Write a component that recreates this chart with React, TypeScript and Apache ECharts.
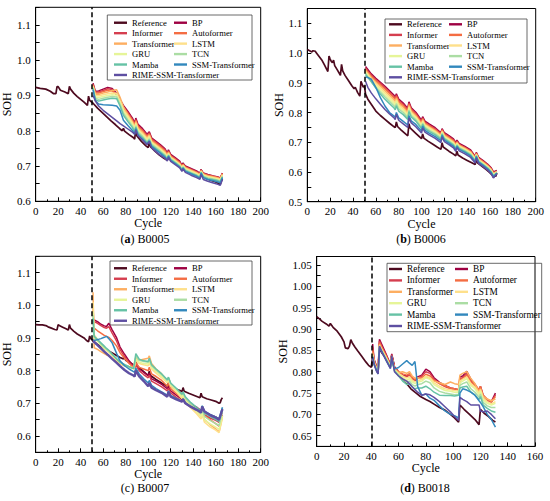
import React, { useEffect, useRef } from "react";
import * as echarts from "echarts";

const FONT = "Liberation Serif";

const SERIES_NAMES = [
  "Reference", "BP", "Informer", "Autoformer", "Transformer", "LSTM",
  "GRU", "TCN", "Mamba", "SSM-Transformer", "RIME-SSM-Transformer",
];
const SERIES_COLORS = [
  "#4d0a1f", "#9e0142", "#d53e4f", "#f46d43", "#fdae61", "#fee08b",
  "#e6f598", "#abdda4", "#66c2a5", "#3288bd", "#5e4fa2",
];
const LEGEND_LEFT = ["Reference", "Informer", "Transformer", "GRU", "Mamba", "RIME-SSM-Transformer"];
const LEGEND_RIGHT = ["BP", "Autoformer", "LSTM", "TCN", "SSM-Transformer"];

const CAPTION_LETTERS = ["a", "b", "c", "d"];
const CAPTION_NAMES = ["B0005", "B0006", "B0007", "B0018"];
const SPLITS = [50, 50, 50, 40];
const X_MAX = [200, 200, 200, 160];
const Y_MIN = [0.6, 0.5, 0.55, 0.625];
const Y_MAX = [1.15, 1.15, 1.15, 1.07];
const Y_STEP = [0.05, 0.05, 0.05, 0.025];
const Y_LABEL_STEP = [0.1, 0.1, 0.1, 0.05];

// ---------- (a) B0005 ----------
const REF_A_X = [0,4,9,13,16,18,19,20,22,26,29,30,31,34,37,40,43,46,47,48,51,55,59,63,67,71,75,77,78,79,83,87,88,89,90,94,98,100,101,102,106,110,114,117,118,119,123,127,130,131,132,136,140,144,146,147,148,152,156,160,163,164,165,166];
const REF_A_Y = [0.923,0.920,0.918,0.912,0.905,0.905,0.925,0.925,0.915,0.910,0.905,0.926,0.918,0.906,0.897,0.889,0.881,0.872,0.898,0.886,0.878,0.864,0.852,0.840,0.828,0.817,0.805,0.800,0.807,0.799,0.789,0.780,0.776,0.806,0.785,0.770,0.757,0.752,0.770,0.755,0.742,0.731,0.722,0.716,0.735,0.720,0.710,0.703,0.697,0.709,0.694,0.685,0.677,0.671,0.667,0.690,0.673,0.664,0.659,0.655,0.650,0.648,0.657,0.663];
const PRED_A_X = [51,53,56,60,64,68,72,75,78,82,86,88,89,91,95,99,101,103,107,111,115,117,118,120,124,128,130,131,133,138,143,146,147,149,153,158,162,164,166];
const BP_A = [0.935,0.912,0.913,0.918,0.923,0.920,0.906,0.888,0.872,0.855,0.836,0.822,0.836,0.818,0.806,0.790,0.797,0.780,0.770,0.760,0.749,0.736,0.746,0.733,0.724,0.714,0.702,0.708,0.700,0.693,0.686,0.679,0.690,0.680,0.676,0.672,0.669,0.666,0.680];
const INFORMER_A = [0.932,0.910,0.910,0.914,0.919,0.917,0.903,0.884,0.868,0.851,0.832,0.818,0.832,0.814,0.802,0.787,0.794,0.777,0.767,0.757,0.746,0.733,0.743,0.730,0.721,0.711,0.700,0.706,0.698,0.691,0.684,0.677,0.689,0.679,0.675,0.671,0.668,0.665,0.679];
const AUTOFORMER_A = [0.930,0.907,0.907,0.911,0.915,0.913,0.902,0.882,0.865,0.848,0.829,0.815,0.829,0.811,0.799,0.784,0.791,0.774,0.764,0.754,0.743,0.731,0.741,0.728,0.719,0.709,0.698,0.705,0.696,0.689,0.682,0.676,0.688,0.678,0.673,0.670,0.667,0.664,0.678];
const TRANSFORMER_A = [0.928,0.904,0.903,0.907,0.910,0.914,0.916,0.895,0.868,0.846,0.826,0.812,0.826,0.808,0.796,0.781,0.788,0.771,0.761,0.751,0.740,0.729,0.739,0.726,0.717,0.707,0.697,0.703,0.695,0.688,0.681,0.675,0.687,0.677,0.672,0.669,0.666,0.663,0.677];
const LSTM_A = [0.926,0.900,0.899,0.902,0.905,0.907,0.906,0.885,0.860,0.841,0.822,0.808,0.822,0.804,0.792,0.777,0.785,0.768,0.758,0.748,0.737,0.726,0.736,0.724,0.715,0.705,0.695,0.701,0.693,0.686,0.679,0.673,0.685,0.675,0.670,0.667,0.664,0.661,0.675];
const GRU_A = [0.924,0.896,0.894,0.897,0.900,0.902,0.901,0.880,0.855,0.836,0.818,0.804,0.818,0.800,0.788,0.773,0.781,0.765,0.755,0.745,0.734,0.724,0.734,0.722,0.713,0.703,0.693,0.700,0.691,0.684,0.677,0.671,0.684,0.673,0.668,0.665,0.662,0.659,0.673];
const TCN_A = [0.922,0.892,0.889,0.892,0.895,0.897,0.896,0.875,0.850,0.831,0.813,0.800,0.814,0.796,0.784,0.769,0.777,0.762,0.752,0.742,0.731,0.721,0.732,0.720,0.711,0.701,0.691,0.698,0.689,0.682,0.675,0.669,0.683,0.671,0.666,0.663,0.660,0.657,0.671];
const MAMBA_A = [0.920,0.888,0.884,0.887,0.890,0.892,0.891,0.870,0.844,0.826,0.809,0.796,0.810,0.792,0.780,0.766,0.774,0.759,0.749,0.739,0.728,0.719,0.730,0.718,0.709,0.699,0.689,0.696,0.687,0.680,0.673,0.667,0.682,0.669,0.664,0.661,0.658,0.655,0.669];
const SSM_A = [0.916,0.885,0.876,0.874,0.873,0.872,0.870,0.858,0.830,0.815,0.801,0.790,0.806,0.788,0.776,0.762,0.771,0.756,0.746,0.736,0.725,0.717,0.728,0.716,0.707,0.697,0.687,0.694,0.685,0.678,0.671,0.665,0.680,0.667,0.662,0.658,0.655,0.652,0.667];
const RIME_A = [0.900,0.885,0.870,0.858,0.848,0.838,0.828,0.820,0.814,0.805,0.796,0.790,0.802,0.786,0.774,0.761,0.770,0.752,0.740,0.730,0.722,0.714,0.725,0.713,0.704,0.695,0.685,0.692,0.682,0.674,0.667,0.662,0.676,0.662,0.657,0.652,0.648,0.645,0.662];

// ---------- (b) B0006 ----------
const REF_B_X = [0,2,4,5,7,8,10,13,15,17,18,19,20,21,22,23,24,26,28,29,30,31,33,36,39,41,42,44,46,47,48,49,50,51,53,56,60,64,68,72,76,77,78,79,82,86,88,89,90,95,100,101,102,106,110,114,117,118,119,124,128,130,131,132,136,140,144,147,148,149,153,157,160,162,163,164,165,166];
const REF_B_Y = [1.012,1.008,1.004,1.008,1.006,1.000,0.990,0.975,0.960,0.945,0.938,0.990,0.980,0.972,0.968,0.976,0.958,0.945,0.932,0.925,0.962,0.940,0.925,0.908,0.890,0.880,0.885,0.868,0.855,0.905,0.895,0.885,0.890,0.862,0.845,0.828,0.805,0.790,0.777,0.764,0.752,0.749,0.768,0.753,0.742,0.728,0.722,0.762,0.748,0.730,0.712,0.728,0.714,0.703,0.693,0.683,0.676,0.698,0.684,0.670,0.660,0.654,0.670,0.657,0.647,0.639,0.631,0.625,0.646,0.631,0.619,0.607,0.597,0.589,0.582,0.588,0.585,0.597];
const PRED_B_X = [51,53,56,60,64,68,72,76,77,78,80,84,88,89,91,95,100,101,103,107,112,117,118,120,124,128,130,131,133,138,143,147,148,150,154,158,161,163,166];
const BP_B = [0.955,0.945,0.930,0.915,0.902,0.888,0.873,0.858,0.852,0.863,0.845,0.832,0.814,0.836,0.816,0.801,0.774,0.786,0.771,0.761,0.749,0.732,0.746,0.732,0.722,0.711,0.699,0.707,0.696,0.686,0.674,0.652,0.666,0.649,0.638,0.626,0.614,0.600,0.605];
const INFORMER_B = [0.950,0.940,0.926,0.911,0.898,0.884,0.869,0.854,0.848,0.859,0.841,0.828,0.810,0.832,0.812,0.797,0.770,0.782,0.767,0.757,0.745,0.729,0.743,0.729,0.719,0.708,0.696,0.704,0.693,0.683,0.671,0.650,0.664,0.647,0.636,0.624,0.612,0.598,0.603];
const AUTOFORMER_B = [0.946,0.936,0.922,0.907,0.893,0.879,0.864,0.849,0.843,0.854,0.836,0.823,0.805,0.828,0.808,0.793,0.766,0.779,0.764,0.754,0.742,0.726,0.741,0.726,0.716,0.705,0.693,0.701,0.691,0.681,0.669,0.648,0.662,0.645,0.634,0.622,0.610,0.596,0.602];
const TRANSFORMER_B = [0.942,0.932,0.918,0.902,0.888,0.873,0.858,0.843,0.837,0.849,0.831,0.818,0.800,0.824,0.804,0.789,0.762,0.776,0.761,0.751,0.739,0.723,0.738,0.723,0.713,0.702,0.690,0.699,0.689,0.679,0.667,0.646,0.661,0.643,0.632,0.620,0.608,0.594,0.601];
const LSTM_B = [0.938,0.928,0.913,0.897,0.882,0.867,0.852,0.837,0.831,0.843,0.825,0.812,0.795,0.819,0.800,0.785,0.758,0.772,0.758,0.748,0.736,0.720,0.736,0.720,0.710,0.699,0.687,0.697,0.687,0.677,0.665,0.644,0.659,0.641,0.630,0.618,0.606,0.592,0.600];
const GRU_B = [0.935,0.924,0.908,0.891,0.876,0.860,0.845,0.830,0.824,0.837,0.819,0.806,0.789,0.814,0.795,0.781,0.754,0.768,0.754,0.744,0.732,0.717,0.733,0.717,0.707,0.696,0.684,0.694,0.684,0.674,0.662,0.642,0.657,0.639,0.628,0.616,0.604,0.590,0.599];
const TCN_B = [0.932,0.920,0.903,0.885,0.869,0.853,0.838,0.823,0.817,0.830,0.812,0.800,0.783,0.808,0.790,0.776,0.750,0.764,0.750,0.740,0.729,0.714,0.730,0.714,0.704,0.693,0.681,0.692,0.682,0.672,0.660,0.640,0.656,0.637,0.626,0.614,0.602,0.588,0.598];
const MAMBA_B = [0.928,0.918,0.905,0.882,0.862,0.845,0.830,0.815,0.809,0.823,0.805,0.793,0.777,0.803,0.785,0.771,0.746,0.760,0.746,0.736,0.725,0.710,0.727,0.711,0.701,0.690,0.678,0.689,0.679,0.669,0.657,0.637,0.654,0.635,0.624,0.612,0.600,0.586,0.597];
const SSM_B = [0.920,0.918,0.912,0.885,0.850,0.822,0.800,0.788,0.784,0.800,0.782,0.770,0.758,0.790,0.772,0.760,0.738,0.754,0.740,0.730,0.719,0.705,0.723,0.707,0.697,0.686,0.674,0.686,0.676,0.666,0.654,0.634,0.652,0.633,0.622,0.610,0.598,0.584,0.596];
const RIME_B = [0.905,0.885,0.866,0.846,0.828,0.810,0.795,0.782,0.776,0.794,0.774,0.762,0.750,0.782,0.765,0.752,0.731,0.748,0.734,0.724,0.713,0.699,0.718,0.702,0.692,0.681,0.669,0.682,0.671,0.661,0.649,0.630,0.648,0.629,0.618,0.606,0.594,0.580,0.594];

// ---------- (c) B0007 ----------
const REF_C_X = [0,3,6,9,11,14,17,19,20,21,24,27,29,30,31,34,37,40,43,45,47,48,49,50,51,55,60,65,70,75,78,79,80,85,88,89,90,95,100,101,102,107,112,117,118,119,124,129,130,131,132,136,141,146,147,148,152,156,160,163,164,165,166];
const REF_C_Y = [0.941,0.940,0.940,0.938,0.934,0.930,0.926,0.925,0.941,0.938,0.933,0.928,0.924,0.941,0.930,0.920,0.912,0.906,0.900,0.893,0.888,0.906,0.898,0.895,0.890,0.880,0.870,0.860,0.850,0.840,0.836,0.842,0.832,0.822,0.815,0.830,0.815,0.800,0.785,0.798,0.785,0.773,0.762,0.752,0.766,0.752,0.744,0.738,0.735,0.748,0.737,0.731,0.724,0.717,0.731,0.720,0.714,0.710,0.706,0.700,0.702,0.712,0.717];
const PRED_C_X = [51,52,55,58,61,63,65,68,72,75,79,83,87,88,89,92,96,100,101,103,107,112,117,118,120,125,130,131,133,138,143,147,148,150,155,160,163,166];
const BP_C = [0.955,0.955,0.950,0.942,0.937,0.935,0.945,0.925,0.900,0.872,0.850,0.830,0.815,0.812,0.822,0.805,0.795,0.785,0.792,0.775,0.768,0.758,0.745,0.752,0.738,0.725,0.712,0.718,0.708,0.697,0.688,0.678,0.688,0.674,0.665,0.658,0.652,0.672];
const INFORMER_C = [0.955,0.950,0.945,0.938,0.932,0.930,0.935,0.915,0.890,0.865,0.843,0.825,0.812,0.808,0.818,0.800,0.788,0.778,0.786,0.768,0.760,0.750,0.738,0.746,0.732,0.718,0.705,0.712,0.700,0.688,0.678,0.668,0.680,0.665,0.655,0.648,0.642,0.665];
const AUTOFORMER_C = [0.990,0.930,0.922,0.915,0.908,0.905,0.902,0.892,0.875,0.855,0.838,0.822,0.810,0.808,0.825,0.810,0.805,0.800,0.810,0.790,0.782,0.770,0.752,0.762,0.745,0.730,0.715,0.722,0.708,0.693,0.680,0.668,0.682,0.662,0.650,0.638,0.630,0.662];
const TRANSFORMER_C = [1.040,0.870,0.865,0.858,0.852,0.848,0.845,0.838,0.828,0.820,0.815,0.812,0.810,0.828,0.840,0.832,0.835,0.838,0.845,0.822,0.805,0.790,0.770,0.778,0.760,0.742,0.722,0.728,0.712,0.692,0.675,0.660,0.672,0.650,0.635,0.622,0.612,0.660];
const LSTM_C = [1.010,0.910,0.895,0.880,0.868,0.862,0.856,0.845,0.832,0.822,0.815,0.810,0.805,0.815,0.832,0.822,0.818,0.815,0.825,0.805,0.792,0.778,0.762,0.770,0.752,0.735,0.715,0.722,0.705,0.686,0.668,0.652,0.665,0.642,0.628,0.618,0.610,0.655];
const GRU_C = [0.980,0.900,0.890,0.878,0.868,0.862,0.858,0.848,0.835,0.825,0.818,0.812,0.806,0.818,0.836,0.826,0.822,0.820,0.830,0.810,0.797,0.783,0.766,0.775,0.757,0.740,0.720,0.727,0.710,0.692,0.675,0.660,0.673,0.650,0.637,0.627,0.620,0.662];
const TCN_C = [0.970,0.902,0.892,0.882,0.872,0.866,0.860,0.850,0.836,0.826,0.818,0.812,0.806,0.822,0.845,0.832,0.828,0.826,0.836,0.815,0.802,0.788,0.770,0.778,0.760,0.744,0.726,0.732,0.716,0.698,0.682,0.668,0.682,0.660,0.648,0.638,0.632,0.675];
const MAMBA_C = [0.960,0.905,0.895,0.885,0.875,0.868,0.862,0.850,0.836,0.826,0.818,0.812,0.806,0.825,0.852,0.835,0.830,0.828,0.838,0.818,0.805,0.790,0.772,0.780,0.762,0.746,0.728,0.735,0.720,0.702,0.688,0.675,0.692,0.670,0.660,0.650,0.645,0.685];
const SSM_C = [0.895,0.892,0.895,0.898,0.902,0.905,0.898,0.885,0.852,0.830,0.815,0.805,0.797,0.795,0.808,0.790,0.775,0.762,0.770,0.755,0.745,0.735,0.725,0.738,0.724,0.715,0.706,0.714,0.702,0.690,0.681,0.674,0.692,0.676,0.666,0.658,0.652,0.688];
const RIME_C = [0.890,0.888,0.878,0.868,0.858,0.852,0.846,0.836,0.824,0.814,0.802,0.792,0.785,0.782,0.800,0.782,0.768,0.752,0.762,0.748,0.740,0.732,0.720,0.735,0.720,0.712,0.705,0.712,0.700,0.689,0.680,0.672,0.690,0.675,0.664,0.656,0.650,0.682];

// ---------- (d) B0018 ----------
const REF_D_X = [0,2,4,7,9,10,12,15,18,20,21,23,24,25,26,28,30,33,36,38,40,41,42,44,45,46,47,50,53,54,55,56,57,60,63,66,69,72,76,80,83,86,90,94,98,101,104,105,108,112,116,119,120,123,126,129,131];
const REF_D_Y = [0.929,0.924,0.918,0.912,0.907,0.913,0.904,0.895,0.882,0.870,0.856,0.854,0.860,0.875,0.868,0.858,0.849,0.836,0.823,0.815,0.810,0.836,0.822,0.806,0.800,0.858,0.848,0.834,0.818,0.812,0.838,0.826,0.808,0.795,0.783,0.772,0.760,0.752,0.742,0.735,0.730,0.724,0.716,0.710,0.700,0.692,0.682,0.722,0.712,0.700,0.688,0.676,0.712,0.702,0.695,0.686,0.682];
const PRED_D_X = [41,42,44,45,46,48,51,54,55,57,60,63,66,68,70,72,74,77,80,83,86,90,94,98,101,104,105,107,110,113,116,119,120,122,125,128,131];
const BP_D = [0.865,0.830,0.812,0.805,0.876,0.862,0.840,0.818,0.842,0.812,0.800,0.792,0.790,0.795,0.785,0.780,0.788,0.792,0.806,0.800,0.786,0.775,0.768,0.762,0.760,0.758,0.788,0.790,0.801,0.782,0.770,0.756,0.766,0.745,0.734,0.730,0.750];
const INFORMER_D = [0.858,0.828,0.810,0.803,0.872,0.858,0.838,0.816,0.840,0.810,0.798,0.790,0.788,0.792,0.783,0.778,0.785,0.790,0.800,0.796,0.782,0.772,0.765,0.760,0.758,0.756,0.784,0.786,0.796,0.778,0.768,0.752,0.762,0.742,0.732,0.728,0.746];
const AUTOFORMER_D = [0.852,0.826,0.808,0.802,0.868,0.855,0.836,0.815,0.838,0.808,0.800,0.795,0.792,0.795,0.786,0.782,0.784,0.786,0.794,0.790,0.780,0.772,0.767,0.762,0.760,0.758,0.780,0.784,0.792,0.776,0.768,0.758,0.766,0.745,0.736,0.730,0.742];
const TRANSFORMER_D = [0.845,0.824,0.806,0.800,0.864,0.852,0.834,0.814,0.836,0.806,0.798,0.800,0.796,0.800,0.790,0.785,0.786,0.782,0.788,0.784,0.778,0.774,0.770,0.776,0.772,0.770,0.792,0.796,0.800,0.784,0.772,0.752,0.760,0.742,0.736,0.732,0.736];
const LSTM_D = [0.840,0.822,0.805,0.799,0.862,0.850,0.832,0.813,0.835,0.805,0.796,0.790,0.785,0.788,0.780,0.776,0.778,0.782,0.790,0.786,0.774,0.766,0.760,0.758,0.756,0.755,0.778,0.782,0.788,0.772,0.764,0.750,0.758,0.738,0.730,0.725,0.730];
const GRU_D = [0.838,0.821,0.804,0.798,0.860,0.848,0.830,0.812,0.834,0.804,0.794,0.786,0.780,0.784,0.776,0.772,0.775,0.778,0.786,0.782,0.770,0.762,0.756,0.754,0.752,0.752,0.774,0.778,0.784,0.768,0.760,0.746,0.754,0.734,0.726,0.722,0.726];
const TCN_D = [0.836,0.820,0.803,0.797,0.859,0.847,0.829,0.811,0.833,0.803,0.792,0.782,0.775,0.778,0.770,0.766,0.770,0.772,0.778,0.774,0.762,0.754,0.750,0.748,0.746,0.747,0.768,0.772,0.776,0.760,0.752,0.740,0.748,0.728,0.720,0.716,0.716];
const MAMBA_D = [0.835,0.819,0.802,0.796,0.858,0.846,0.828,0.810,0.832,0.802,0.790,0.778,0.770,0.772,0.764,0.760,0.762,0.762,0.766,0.760,0.752,0.745,0.744,0.744,0.743,0.745,0.762,0.764,0.766,0.752,0.745,0.735,0.742,0.722,0.714,0.708,0.705];
const SSM_D = [0.835,0.818,0.801,0.795,0.855,0.845,0.826,0.808,0.830,0.806,0.810,0.818,0.826,0.820,0.815,0.824,0.765,0.745,0.748,0.738,0.733,0.720,0.708,0.700,0.697,0.692,0.750,0.760,0.757,0.752,0.745,0.732,0.728,0.718,0.700,0.688,0.670];
const RIME_D = [0.835,0.818,0.800,0.795,0.860,0.845,0.826,0.808,0.838,0.800,0.790,0.783,0.778,0.772,0.765,0.758,0.752,0.745,0.748,0.746,0.740,0.730,0.718,0.706,0.695,0.686,0.740,0.735,0.730,0.722,0.722,0.722,0.708,0.706,0.708,0.700,0.690];

const PANELS = [
  { refX: REF_A_X, refY: REF_A_Y, predX: PRED_A_X,
    preds: [BP_A, INFORMER_A, AUTOFORMER_A, TRANSFORMER_A, LSTM_A, GRU_A, TCN_A, MAMBA_A, SSM_A, RIME_A] },
  { refX: REF_B_X, refY: REF_B_Y, predX: PRED_B_X,
    preds: [BP_B, INFORMER_B, AUTOFORMER_B, TRANSFORMER_B, LSTM_B, GRU_B, TCN_B, MAMBA_B, SSM_B, RIME_B] },
  { refX: REF_C_X, refY: REF_C_Y, predX: PRED_C_X,
    preds: [BP_C, INFORMER_C, AUTOFORMER_C, TRANSFORMER_C, LSTM_C, GRU_C, TCN_C, MAMBA_C, SSM_C, RIME_C] },
  { refX: REF_D_X, refY: REF_D_Y, predX: PRED_D_X,
    preds: [BP_D, INFORMER_D, AUTOFORMER_D, TRANSFORMER_D, LSTM_D, GRU_D, TCN_D, MAMBA_D, SSM_D, RIME_D] },
];

// ---------- layout (pixels) ----------
const GRID_BOX = [
  { left: 32.3, top: 7.3, width: 228.4, height: 194 },
  { left: 307.3, top: 8.5, width: 228.4, height: 193.2 },
  { left: 32.3, top: 256.3, width: 228.4, height: 196 },
  { left: 316.7, top: 256.5, width: 218.3, height: 189.9 },
];
const LEGEND_POS = [
  { l: 114, r: 174, top: 17.5, lh: 10.45, fs: 8.6, box: [107.3, 15, 144.7, 65] },
  { l: 389, r: 449, top: 19, lh: 10.6, fs: 8.6, box: [385, 19, 142, 64] },
  { l: 114, r: 174, top: 263, lh: 10.5, fs: 8.6, box: [110, 261, 142, 64] },
  { l: 389, r: 455, top: 263.3, lh: 11.4, fs: 9.3, box: [387, 263.3, 154.7, 68.4] },
];
const CAPTION_POS = [[145, 239], [421, 239], [145, 488], [425, 488]];
const SOH_GAP = [16, 16, 16, 22];

const zip = (xs: number[], ys: number[]) => xs.map((x, i) => [x, ys[i]]);

function buildOption() {
  const grid: any[] = [];
  const xAxis: any[] = [];
  const yAxis: any[] = [];
  const series: any[] = [];
  const legend: any[] = [];
  const graphic: any[] = [];

  PANELS.forEach((p, i) => {
    grid.push({ ...GRID_BOX[i], show: true, borderColor: "#000", borderWidth: 1, backgroundColor: "transparent" });
    xAxis.push({
      type: "value", gridIndex: i, min: 0, max: X_MAX[i], interval: 20,
      name: "Cycle", nameLocation: "middle", nameGap: 15,
      nameTextStyle: { fontFamily: FONT, fontSize: 12, color: "#000" },
      axisLine: { show: true, lineStyle: { color: "#000", width: 1 } },
      axisTick: { show: true, inside: true, length: 4, lineStyle: { color: "#000" } },
      minorTick: { show: true, splitNumber: 2, length: 2, lineStyle: { color: "#000" } },
      splitLine: { show: false },
      axisLabel: { fontFamily: FONT, fontSize: 11, color: "#000", margin: 4 },
    });
    const lstep = Y_LABEL_STEP[i];
    const dec = lstep < 0.1 ? 2 : 1;
    yAxis.push({
      type: "value", gridIndex: i, min: Y_MIN[i], max: Y_MAX[i], interval: Y_STEP[i],
      name: "SOH", nameLocation: "middle", nameGap: SOH_GAP[i],
      nameTextStyle: { fontFamily: FONT, fontSize: 12, color: "#000" },
      axisLine: { show: true, lineStyle: { color: "#000", width: 1 } },
      axisTick: { show: true, inside: true, length: 4, lineStyle: { color: "#000" } },
      splitLine: { show: false },
      axisLabel: {
        fontFamily: FONT, fontSize: 11, color: "#000", margin: 5,
        formatter: (v: number) => {
          const k = v / lstep;
          return Math.abs(k - Math.round(k)) < 1e-6 && v < Y_MAX[i] - 1e-9 ? v.toFixed(dec) : "";
        },
      },
    });

    series.push({
      type: "line", name: SERIES_NAMES[0], xAxisIndex: i, yAxisIndex: i,
      data: zip(p.refX, p.refY), showSymbol: false, symbol: "none",
      lineStyle: { color: SERIES_COLORS[0], width: 1.7 }, itemStyle: { color: SERIES_COLORS[0] },
      z: 2,
      markLine: {
        silent: true, symbol: ["none", "none"], label: { show: false },
        lineStyle: { color: "#000", type: [5, 3], width: 1.5 },
        data: [{ xAxis: SPLITS[i] }],
      },
    });
    p.preds.forEach((vals, j) => {
      const isRime = j === 9;
      series.push({
        type: "line", name: SERIES_NAMES[j + 1], xAxisIndex: i, yAxisIndex: i,
        data: zip(p.predX, vals), showSymbol: false, symbol: "none",
        lineStyle: { color: SERIES_COLORS[j + 1], width: isRime && i === 2 ? 2.4 : 1.5 },
        itemStyle: { color: SERIES_COLORS[j + 1] },
        z: 3,
      });
    });

    const L = LEGEND_POS[i];
    const common = {
      orient: "vertical", icon: "rect", itemWidth: 13, itemHeight: 2.4, itemGap: 0,
      padding: 0, selectedMode: false, top: L.top,
      textStyle: { fontFamily: FONT, fontSize: L.fs, color: "#000", lineHeight: L.lh },
    };
    legend.push({ ...common, left: L.l, data: LEGEND_LEFT });
    legend.push({ ...common, left: L.r, data: LEGEND_RIGHT });

    const [bx, by, bw, bh] = L.box;
    graphic.push({
      type: "rect", silent: true, z: 1,
      shape: { x: bx, y: by, width: bw, height: bh },
      style: { fill: "none", stroke: "#444", lineWidth: 0.8 },
    });
    const letter = CAPTION_LETTERS[i];
    const boldLetter = letter !== "c";
    graphic.push({
      type: "text", silent: true, x: CAPTION_POS[i][0], y: CAPTION_POS[i][1],
      style: {
        text: boldLetter ? `({b|${letter}}) ${CAPTION_NAMES[i]}` : `(${letter}) ${CAPTION_NAMES[i]}`,
        fontFamily: FONT, fontSize: 12, fill: "#000", align: "center", verticalAlign: "middle",
        rich: { b: { fontFamily: FONT, fontSize: 12, fontWeight: "bold", fill: "#000" } },
      },
    });
  });

  return {
    animation: false,
    backgroundColor: "#fff",
    textStyle: { fontFamily: FONT },
    grid, xAxis, yAxis, series, legend, graphic,
  };
}

export default function App() {
  const ref = useRef<HTMLDivElement>(null);
  useEffect(() => {
    document.body.style.margin = "0";
    const chart = echarts.init(ref.current as HTMLDivElement, null, { renderer: "svg" });
    chart.setOption(buildOption() as any);
    return () => chart.dispose();
  }, []);
  return <div ref={ref} style={{ width: 550, height: 501 }} />;
}
